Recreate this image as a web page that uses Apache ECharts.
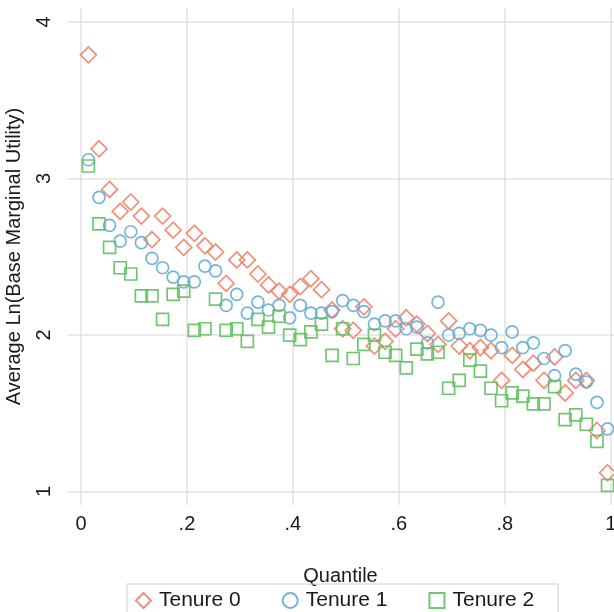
<!DOCTYPE html>
<html>
<head>
<meta charset="utf-8">
<script src="https://cdn.jsdelivr.net/npm/echarts@6/dist/echarts.min.js"></script>
<style>
  html, body { margin: 0; padding: 0; background: #fff; }
  #chart { width: 614px; height: 612px; }
</style>
</head>
<body>
<div id="chart"></div>
<script>
// quantile positions (x)
const quantile = [
  0.014, 0.034, 0.054, 0.074, 0.094, 0.114, 0.134, 0.154, 0.174, 0.194,
  0.214, 0.234, 0.254, 0.274, 0.294, 0.314, 0.334, 0.354, 0.374, 0.394,
  0.414, 0.434, 0.454, 0.474, 0.494, 0.514, 0.534, 0.554, 0.574, 0.594,
  0.614, 0.634, 0.654, 0.674, 0.694, 0.714, 0.734, 0.754, 0.774, 0.794,
  0.814, 0.834, 0.854, 0.874, 0.894, 0.914, 0.934, 0.954, 0.974, 0.994,
]

// average ln(base marginal utility) by tenure
const tenure0 = [
  3.79, 3.19, 2.93, 2.79, 2.85, 2.76, 2.61, 2.76, 2.67, 2.56,
  2.65, 2.57, 2.53, 2.33, 2.48, 2.48, 2.39, 2.32, 2.28, 2.26,
  2.31, 2.36, 2.29, 2.16, 2.04, 2.03, 2.18, 1.93, 1.96, 2.04,
  2.11, 2.07, 2.01, 1.94, 2.09, 1.93, 1.90, 1.92, 1.90, 1.71,
  1.87, 1.78, 1.82, 1.71, 1.86, 1.63, 1.71, 1.71, 1.39, 1.12,
]
const tenure1 = [
  3.12, 2.88, 2.70, 2.60, 2.66, 2.59, 2.49, 2.43, 2.37, 2.34,
  2.34, 2.44, 2.41, 2.19, 2.26, 2.14, 2.21, 2.16, 2.19, 2.11,
  2.19, 2.14, 2.14, 2.15, 2.22, 2.19, 2.15, 2.07, 2.09, 2.09,
  2.04, 2.05, 1.95, 2.21, 2.00, 2.01, 2.04, 2.03, 2.00, 1.92,
  2.02, 1.92, 1.95, 1.85, 1.74, 1.90, 1.75, 1.70, 1.57, 1.40,
]
const tenure2 = [
  3.08, 2.71, 2.56, 2.43, 2.39, 2.25, 2.25, 2.10, 2.26, 2.28,
  2.03, 2.04, 2.23, 2.03, 2.04, 1.96, 2.10, 2.05, 2.12, 2.00,
  1.97, 2.02, 2.07, 1.87, 2.04, 1.85, 1.94, 2.00, 1.89, 1.87,
  1.79, 1.91, 1.88, 1.89, 1.66, 1.71, 1.84, 1.77, 1.66, 1.58,
  1.63, 1.61, 1.56, 1.56, 1.67, 1.46, 1.49, 1.43, 1.32, 1.04,
]

const xTicks = [0, 0.2, 0.4, 0.6, 0.8, 1]
const yTicks = [1, 2, 3, 4]

const seriesNames = ['Tenure 0', 'Tenure 1', 'Tenure 2']
const colors = ['#f0836a', '#66acd6', '#62c062']

const FONT = 'Liberation Sans, Arial, sans-serif'
const TEXT = '#1a1a1a'
const GRID = '#e2e2e2'

function fmtX(v) {
  if (v === 0) return '0'
  if (v === 1) return '1'
  return String(v).replace(/^0/, '')
}

function pts(ys) {
  return ys.map((y, i) => [quantile[i], y])
}

const chart = echarts.init(document.getElementById('chart'), null, { renderer: 'canvas' })

const option = {
  animation: false,
  backgroundColor: '#fff',
  textStyle: { fontFamily: FONT, color: TEXT },
  grid: { left: 67, right: 0, top: 8, bottom: 107, containLabel: false, outerBoundsMode: 'none' },
  xAxis: {
    type: 'value',
    min: -0.0264,
    max: 1.0062,
    name: 'Quantile',
    nameLocation: 'middle',
    nameGap: 61,
    nameTextStyle: { fontSize: 20, color: TEXT, fontFamily: FONT },
    axisLine: { show: false },
    axisTick: { show: false, customValues: xTicks },
    axisLabel: {
      customValues: xTicks,
      formatter: fmtX,
      fontSize: 20,
      color: TEXT,
      margin: 9,
      fontFamily: FONT,
    },
    splitLine: { show: true, lineStyle: { color: GRID, width: 1.5 } },
  },
  yAxis: {
    type: 'value',
    min: 0.914,
    max: 4.0895,
    name: 'Average Ln(Base Marginal Utility)',
    nameLocation: 'middle',
    nameGap: 43,
    nameTextStyle: { fontSize: 20, color: TEXT, fontFamily: FONT },
    axisLine: { show: false },
    axisTick: { show: false, customValues: yTicks },
    axisLabel: {
      customValues: yTicks,
      rotate: 90,
      fontSize: 20,
      color: TEXT,
      margin: 13,
      fontFamily: FONT,
    },
    splitLine: { show: true, lineStyle: { color: GRID, width: 1.5 } },
  },
  legend: {
    data: [
      { name: 'Tenure 0', icon: 'diamond' },
      { name: 'Tenure 1', icon: 'circle' },
      { name: 'Tenure 2', icon: 'rect' },
    ],
    left: 127,
    top: 584,
    orient: 'horizontal',
    itemWidth: 15,
    itemHeight: 15,
    itemGap: 41,
    padding: [6, 24, 20, 8],
    borderColor: '#d0d0d0',
    borderWidth: 1,
    textStyle: { fontSize: 21, color: TEXT, fontFamily: FONT, padding: [0, 0, 0, 3] },
  },
  series: [
    {
      name: seriesNames[0],
      type: 'scatter',
      data: pts(tenure0),
      symbol: 'diamond',
      symbolSize: 16,
      itemStyle: { color: 'rgba(0,0,0,0)', borderColor: colors[0], borderWidth: 1.7, opacity: 0.9 },
    },
    {
      name: seriesNames[1],
      type: 'scatter',
      data: pts(tenure1),
      symbol: 'circle',
      symbolSize: 12,
      itemStyle: { color: 'rgba(0,0,0,0)', borderColor: colors[1], borderWidth: 1.7, opacity: 0.9 },
    },
    {
      name: seriesNames[2],
      type: 'scatter',
      data: pts(tenure2),
      symbol: 'rect',
      symbolSize: 12,
      itemStyle: { color: 'rgba(0,0,0,0)', borderColor: colors[2], borderWidth: 1.7, opacity: 0.9 },
    },
  ],
}

chart.setOption(option)
</script>
</body>
</html>
